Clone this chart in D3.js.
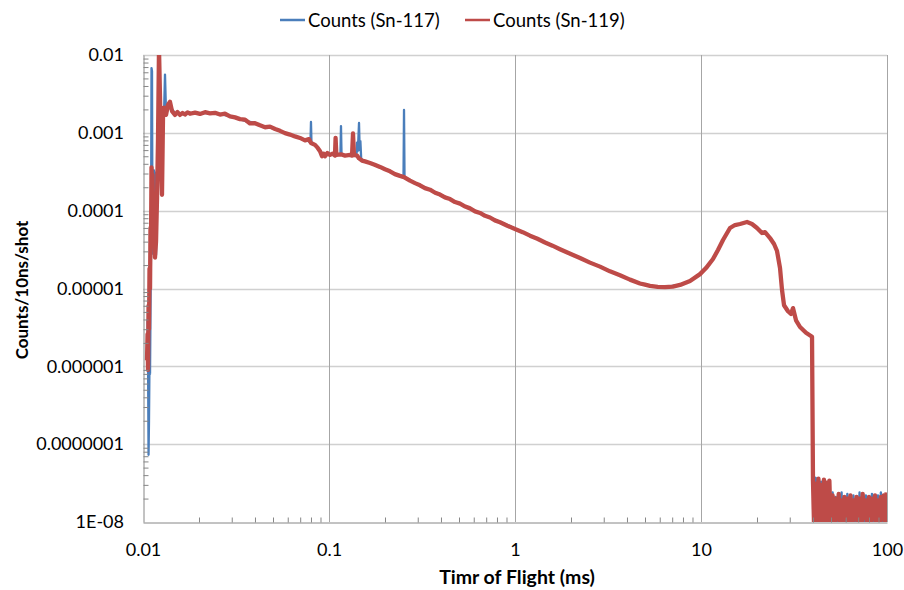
<!DOCTYPE html>
<html>
<head>
<meta charset="utf-8">
<script src="https://cdn.jsdelivr.net/npm/d3@7"></script>
<style>
  body { margin: 0; background: #fff; }
  text { font-family: Lato, "Open Sans", sans-serif; fill: #000; }
</style>
</head>
<body>
<svg id="chart" width="904" height="590"></svg>
<script>
// time of flight (ms) / counts per 10ns per shot
var sn117Main = [
  [0.01058, 4e-6], [0.01064, 1.5e-6], [0.01071, 7.3e-8], [0.01077, 2e-7], [0.01084, 1.2e-6],
  [0.01091, 8e-7], [0.01097, 5e-6], [0.01104, 3e-5], [0.01111, 6.8e-3], [0.01118, 6.2e-3],
  [0.01125, 2.8e-5], [0.01132, 1e-4], [0.01146, 3.3e-4], [0.01153, 1.2e-4], [0.0116, 3.1e-4],
  [0.01168, 6e-5], [0.01175, 2.7e-5], [0.0119, 2e-4], [0.01204, 8e-4], [0.01219, 0.004],
  [0.01234, 0.0022], [0.0125, 0.0015], [0.01265, 0.0019], [0.01281, 0.0014], [0.01297, 0.0017],
  [0.01313, 0.0056], [0.0133, 0.0018], [0.01397, 0.0022], [0.0148, 0.0018], [0.0158, 0.00175],
  [0.0175, 0.0018], [0.0195, 0.00178], [0.0215, 0.0018], [0.024, 0.00176], [0.0265, 0.00172],
  [0.0293, 0.00165], [0.0325, 0.00152], [0.036, 0.0014], [0.04, 0.00135], [0.0445, 0.0012],
  [0.049, 0.00116], [0.0545, 0.00105], [0.06, 0.00097], [0.066, 0.0009], [0.072, 0.00083],
  [0.0775, 0.00078], [0.0795, 0.00075], [0.08, 0.00138], [0.0805, 0.00074], [0.0841, 0.00069],
  [0.0895, 0.00059], [0.0935, 0.00052], [0.1013, 0.00052], [0.1077, 0.00052], [0.1152, 0.00052],
  [0.116, 0.00122], [0.1168, 0.00052], [0.1297, 0.00051], [0.1405, 0.00053], [0.1414, 0.00075],
  [0.1425, 0.00058], [0.1438, 0.00082], [0.145, 0.00134], [0.1462, 0.0006], [0.1475, 0.00078],
  [0.149, 0.00046], [0.1561, 0.00043], [0.176, 0.00039], [0.2, 0.000345], [0.226, 0.000298],
  [0.2408, 0.000282], [0.2515, 0.00027], [0.2531, 0.00197], [0.2547, 0.00027], [0.2726, 0.000245],
  [0.3085, 0.000214], [0.3491, 0.000184], [0.3952, 0.000163], [0.4473, 0.000139], [0.5062, 0.000124],
  [0.5729, 0.000106], [0.6484, 9.4e-5], [0.7338, 8.1e-5], [0.8305, 7.2e-5], [1.0, 5.9e-5],
  [1.204, 4.8e-5], [1.45, 3.92e-5], [1.745, 3.22e-5], [2.236, 2.45e-5], [2.864, 1.93e-5],
  [3.668, 1.47e-5], [4.699, 1.15e-5], [5.318, 1.07e-5], [6.405, 1.05e-5], [7.713, 1.11e-5],
  [8.729, 1.25e-5], [9.88, 1.53e-5], [10.64, 1.83e-5], [11.6, 2.39e-5], [12.34, 3.13e-5],
  [13.13, 4.2e-5], [14.32, 5.99e-5], [15.23, 6.54e-5], [16.21, 6.74e-5], [17.68, 7.15e-5],
  [18.8, 6.74e-5], [20.0, 5.99e-5], [21.28, 5.16e-5], [22.09, 5.3e-5], [23.5, 4.45e-5],
  [24.7, 3.73e-5], [25.63, 3.03e-5], [26.6, 1.83e-5], [27.26, 9.6e-6], [27.95, 6.1e-6],
  [29.36, 5.1e-6], [30.47, 4.7e-6], [31.23, 5.6e-6], [32.42, 3.9e-6], [34.07, 3.2e-6],
  [36.69, 2.7e-6], [39.53, 2.4e-6]
];

var sn119Main = [
  [0.01051, 1.2e-6], [0.01058, 2.6e-6], [0.01064, 9e-7], [0.01071, 6e-6], [0.01077, 3e-6],
  [0.01084, 1.8e-5], [0.01091, 1.0e-5], [0.01097, 6e-5], [0.01104, 3.5e-5], [0.01111, 3.6e-4],
  [0.01118, 2.2e-4], [0.01125, 2.9e-4], [0.01132, 1.2e-4], [0.01146, 6e-5], [0.0116, 2.5e-5],
  [0.01175, 4e-5], [0.0119, 1.5e-4], [0.01204, 8e-4], [0.01219, 0.012], [0.01234, 0.003],
  [0.0125, 5e-4], [0.01265, 1.6e-4], [0.01281, 0.0016], [0.01297, 0.0021], [0.0133, 0.0017],
  [0.01363, 0.0023], [0.01397, 0.0025], [0.01432, 0.0019], [0.01486, 0.0017], [0.01533, 0.00185],
  [0.01581, 0.0017], [0.01632, 0.0018], [0.01682, 0.00172], [0.01735, 0.00183], [0.01789, 0.00176],
  [0.01905, 0.00182], [0.02025, 0.00175], [0.02155, 0.00184], [0.02292, 0.00178], [0.0244, 0.00181],
  [0.02594, 0.00172], [0.0276, 0.00176], [0.02936, 0.00163], [0.03125, 0.00158], [0.03323, 0.0015],
  [0.03536, 0.00148], [0.03761, 0.00132], [0.04, 0.00133], [0.04256, 0.00125], [0.0453, 0.00118],
  [0.04817, 0.0012], [0.0513, 0.00112], [0.05452, 0.00106], [0.058, 0.00099], [0.0617, 0.00095],
  [0.0656, 0.0009], [0.06983, 0.00086], [0.0743, 0.0008], [0.078, 0.00083], [0.08002, 0.00074],
  [0.0841, 0.0007], [0.087, 0.00064], [0.0895, 0.00058], [0.0917, 0.0005], [0.0935, 0.00054],
  [0.0952, 0.0005], [0.098, 0.00055], [0.1013, 0.00052], [0.1045, 0.00054], [0.1077, 0.00051],
  [0.1085, 0.00086], [0.1095, 0.00052], [0.116, 0.00053], [0.1219, 0.00051], [0.1297, 0.00052],
  [0.133, 0.00051], [0.1346, 0.00098], [0.1362, 0.00052], [0.1414, 0.00051], [0.145, 0.00047],
  [0.1504, 0.00044], [0.1561, 0.00043], [0.1661, 0.00041], [0.176, 0.00039], [0.188, 0.000365],
  [0.2, 0.00034], [0.2128, 0.00032], [0.226, 0.000295], [0.2408, 0.00028], [0.2531, 0.00027],
  [0.2726, 0.000243], [0.29, 0.000226], [0.3085, 0.000212], [0.328, 0.000195], [0.3491, 0.000186],
  [0.372, 0.00017], [0.3952, 0.000161], [0.42, 0.000148], [0.4473, 0.000141], [0.476, 0.000129],
  [0.5062, 0.000123], [0.54, 0.000113], [0.5729, 0.000107], [0.61, 9.8e-5], [0.6484, 9.35e-5],
  [0.69, 8.6e-5], [0.7338, 8.17e-5], [0.78, 7.5e-5], [0.8305, 7.1e-5], [0.91, 6.4e-5],
  [1.0, 5.8e-5], [1.1, 5.3e-5], [1.204, 4.77e-5], [1.32, 4.35e-5], [1.45, 3.9e-5],
  [1.59, 3.55e-5], [1.745, 3.2e-5], [1.98, 2.8e-5], [2.236, 2.47e-5], [2.53, 2.15e-5],
  [2.864, 1.91e-5], [3.24, 1.66e-5], [3.668, 1.48e-5], [4.15, 1.3e-5], [4.699, 1.16e-5],
  [5.0, 1.12e-5], [5.318, 1.08e-5], [5.85, 1.05e-5], [6.405, 1.04e-5], [7.05, 1.06e-5],
  [7.713, 1.11e-5], [8.729, 1.25e-5], [9.88, 1.53e-5], [10.64, 1.83e-5], [11.6, 2.39e-5],
  [12.34, 3.13e-5], [13.13, 4.2e-5], [14.32, 5.99e-5], [15.23, 6.54e-5], [16.21, 6.74e-5],
  [17.68, 7.15e-5], [18.8, 6.74e-5], [20.0, 5.99e-5], [21.28, 5.16e-5], [22.09, 5.3e-5],
  [23.5, 4.45e-5], [24.7, 3.73e-5], [25.63, 3.03e-5], [26.6, 1.83e-5], [27.26, 9.6e-6],
  [27.95, 6.1e-6], [29.36, 5.1e-6], [30.47, 4.7e-6], [31.23, 5.6e-6], [32.42, 3.9e-6],
  [34.07, 3.2e-6], [36.69, 2.7e-6], [39.53, 2.4e-6]
];

// background noise after the cut-off (same time stamps for both isotopes)
var noiseTime = [40, 40.7, 41.4, 42.1, 42.8, 43.5, 44.2, 45, 45.8, 46.6,
  47.4, 48.2, 49, 50, 51, 52, 53, 54, 55, 56,
  57, 58, 59, 60, 61.2, 62.4, 63.6, 64.8, 66, 67.3,
  68.6, 69.9, 71.2, 72.5, 74, 75.5, 77, 78.5, 80, 81.5,
  83, 84.6, 86.2, 87.8, 89.4, 91, 92.7, 94.4, 96.1, 97.8, 99.5];
var sn117Noise = [3.0e-8, 5e-9, 3.7e-8, 6e-9, 3.2e-8, 5e-9, 3.3e-8, 6e-9, 3.1e-8, 5e-9,
  2.6e-8, 6e-9, 2.9e-8, 5e-9, 2.4e-8, 9e-9, 2.1e-8, 5e-9, 2.0e-8, 9.5e-9,
  2.4e-8, 6e-9, 1.9e-8, 9e-9, 2.3e-8, 5e-9, 2.0e-8, 9.5e-9, 2.2e-8, 6e-9,
  1.9e-8, 9e-9, 2.4e-8, 5e-9, 2.0e-8, 9e-9, 2.2e-8, 6e-9, 1.9e-8, 9.5e-9,
  2.3e-8, 5e-9, 2.0e-8, 9e-9, 2.2e-8, 6e-9, 2.4e-8, 9e-9, 2.0e-8, 5e-9, 2.3e-8];
var sn119Noise = [3.4e-8, 6e-9, 3.1e-8, 5e-9, 3.6e-8, 7e-9, 3.0e-8, 5e-9, 3.5e-8, 6e-9,
  3.2e-8, 5e-9, 3.4e-8, 6e-9, 2.2e-8, 5e-9, 2.0e-8, 1.1e-8, 2.3e-8, 6e-9,
  1.9e-8, 5e-9, 2.1e-8, 1.15e-8, 2.0e-8, 6e-9, 2.2e-8, 5e-9, 1.9e-8, 1.1e-8,
  2.1e-8, 6e-9, 2.0e-8, 5e-9, 2.3e-8, 1.12e-8, 1.9e-8, 6e-9, 2.1e-8, 5e-9,
  2.0e-8, 1.1e-8, 2.2e-8, 6e-9, 1.9e-8, 5e-9, 2.1e-8, 1.1e-8, 2.2e-8, 6e-9, 2.4e-8];

var seriesNames = ['Counts (Sn-117)', 'Counts (Sn-119)'];
var seriesColors = ['#4a7ebb', '#be4b48'];

var xTicks = [0.01, 0.1, 1, 10, 100];
var xTickLabels = ['0.01', '0.1', '1', '10', '100'];
var yTicks = [1e-8, 1e-7, 1e-6, 1e-5, 1e-4, 1e-3, 1e-2];
var yTickLabels = ['1E-08', '0.0000001', '0.000001', '0.00001', '0.0001', '0.001', '0.01'];

var plot = { left: 143, right: 887, top: 55, bottom: 522 };

var svg = d3.select('#chart');
var x = d3.scaleLog().domain([0.01, 100]).range([plot.left, plot.right]);
var y = d3.scaleLog().domain([1e-8, 0.01]).range([plot.bottom, plot.top]);

// minor ticks 2..9 inside every decade
function minors(lo, hi) {
  var out = [];
  for (var e = lo; e < hi; e++) {
    for (var k = 2; k <= 9; k++) out.push(k * Math.pow(10, e));
  }
  return out;
}

// grid
svg.append('g').selectAll('line').data(yTicks.slice(1)).enter().append('line')
  .attr('x1', plot.left).attr('x2', plot.right)
  .attr('y1', function(d){ return Math.round(y(d)) + 0.5; })
  .attr('y2', function(d){ return Math.round(y(d)) + 0.5; })
  .attr('stroke', '#d0d0d0').attr('stroke-width', 1.6);
svg.append('g').selectAll('line').data(xTicks.slice(1)).enter().append('line')
  .attr('x1', function(d){ return Math.round(x(d)) + 0.5; })
  .attr('x2', function(d){ return Math.round(x(d)) + 0.5; })
  .attr('y1', plot.top).attr('y2', plot.bottom)
  .attr('stroke', '#a6a6a6').attr('stroke-width', 1);

// data
svg.append('clipPath').attr('id', 'clip').append('rect')
  .attr('x', plot.left).attr('y', plot.top)
  .attr('width', plot.right - plot.left).attr('height', plot.bottom - plot.top);

function withNoise(main, noise) {
  return main.concat(noiseTime.map(function(t, i){ return [t, noise[i]]; }));
}
var line = d3.line().x(function(d){ return x(d[0]); }).y(function(d){ return y(d[1]); });

var g = svg.append('g').attr('clip-path', 'url(#clip)');
g.append('path').datum(withNoise(sn117Main, sn117Noise))
  .attr('d', line).attr('fill', 'none')
  .attr('stroke', seriesColors[0]).attr('stroke-width', 2.3).attr('stroke-linejoin', 'round');
g.append('path').datum(withNoise(sn119Main, sn119Noise))
  .attr('d', line).attr('fill', 'none')
  .attr('stroke', seriesColors[1]).attr('stroke-width', 4.3).attr('stroke-linejoin', 'round');

// axes: minor ticks point into the plot
var axisColor = '#868686';
var yMinor = svg.append('g').attr('transform', 'translate(' + (plot.left + 0.5) + ',0)')
  .call(d3.axisLeft(y).tickValues(minors(-8, -2)).tickSizeInner(-5).tickSizeOuter(0).tickFormat(''));
var xMinor = svg.append('g').attr('transform', 'translate(0,' + (plot.bottom + 0.5) + ')')
  .call(d3.axisBottom(x).tickValues(minors(-2, 2)).tickSizeInner(-5).tickSizeOuter(0).tickFormat(''));
[yMinor, xMinor].forEach(function(a){
  a.selectAll('path, line').attr('stroke', axisColor);
});

var yLab = svg.append('g').attr('transform', 'translate(' + plot.left + ',0)')
  .call(d3.axisLeft(y).tickValues(yTicks).tickSize(0).tickPadding(19)
    .tickFormat(function(d, i){ return yTickLabels[i]; }));
var xLab = svg.append('g').attr('transform', 'translate(0,' + plot.bottom + ')')
  .call(d3.axisBottom(x).tickValues(xTicks).tickSize(0).tickPadding(21)
    .tickFormat(function(d, i){ return xTickLabels[i]; }));
[yLab, xLab].forEach(function(a){
  a.select('.domain').remove();
  a.selectAll('text').attr('font-family', 'Lato, sans-serif').attr('font-size', 18).attr('fill', '#000');
});

// titles
svg.append('text').attr('x', 517).attr('y', 584)
  .attr('text-anchor', 'middle').attr('font-size', 19.5).attr('font-weight', 'bold')
  .text('Timr of Flight (ms)');
svg.append('text').attr('transform', 'translate(28,290) rotate(-90)')
  .attr('text-anchor', 'middle').attr('font-size', 17).attr('font-weight', 'bold')
  .text('Counts/10ns/shot');

// legend
var legendX = [280, 465];
var lg = svg.append('g').selectAll('g').data(seriesNames).enter().append('g')
  .attr('transform', function(d, i){ return 'translate(' + legendX[i] + ',20)'; });
lg.append('line').attr('x1', 0).attr('x2', 25).attr('y1', 0).attr('y2', 0)
  .attr('stroke', function(d, i){ return seriesColors[i]; }).attr('stroke-width', 2.5);
lg.append('text').attr('x', 28).attr('y', 6.5).attr('font-size', 18.5)
  .text(function(d){ return d; });
</script>
</body>
</html>
